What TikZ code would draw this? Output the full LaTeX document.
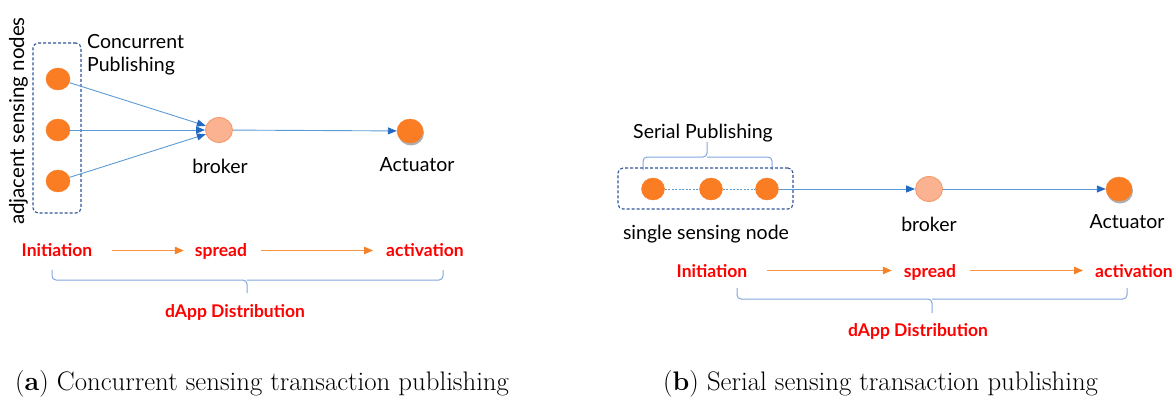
\documentclass[tikz,border=0pt]{standalone}
\usepackage{fontspec}
\usetikzlibrary{shapes.geometric,arrows.meta}
\newfontfamily\osans{Lato}
\definecolor{nodeor}{RGB}{250,125,35}
\definecolor{brkfill}{RGB}{250,178,145}
\definecolor{brkdraw}{RGB}{245,150,100}
\definecolor{lineblue}{RGB}{91,155,213}
\definecolor{tipblue}{RGB}{35,105,195}
\definecolor{boxblue}{RGB}{47,85,151}
\definecolor{bracecol}{RGB}{130,165,220}
\definecolor{arrowor}{RGB}{248,150,70}
\definecolor{tipor}{RGB}{245,130,40}
\definecolor{redtxt}{RGB}{255,0,0}
\definecolor{shadowcol}{RGB}{175,175,175}
\tikzset{
  sensor/.style={ellipse,fill=nodeor,draw=nodeor,line width=0.4pt,inner sep=0pt,minimum width=24pt,minimum height=22pt},
  brokernode/.style={ellipse,fill=brkfill,draw=brkdraw,line width=0.8pt,inner sep=0pt,minimum width=27pt,minimum height=25pt},
  actnode/.style={ellipse,fill=nodeor,draw=nodeor,line width=0.4pt,inner sep=0pt,minimum width=26pt,minimum height=24pt},
  shadownode/.style={ellipse,fill=shadowcol,draw=none,inner sep=0pt,minimum width=26pt,minimum height=25pt},
  groupbox/.style={draw=boxblue,line width=1.1pt,dash pattern=on 3pt off 2pt,rounded corners=5pt,inner sep=0pt},
  barrow/.style={draw=lineblue,line width=0.9pt,-{Triangle[length=9pt,width=7pt,color=tipblue]}},
  dotlink/.style={draw=lineblue,line width=0.7pt,dash pattern=on 2pt off 1.5pt},
  oarrow/.style={draw=arrowor,line width=1.2pt,-{Triangle[length=9pt,width=7.5pt,color=tipor]}},
  bracepath/.style={draw=bracecol,line width=1pt,rounded corners=4pt},
  lbl/.style={font=\osans\fontsize{19.5}{23}\selectfont,inner sep=0pt,anchor=base},
  redlbl/.style={font=\osans\bfseries\fontsize{17.5}{20}\selectfont,text=redtxt,inner sep=0pt,anchor=base},
  captxt/.style={font=\fontsize{26.8}{32}\selectfont,inner sep=0pt,anchor=base west}
}
\begin{document}
\begin{tikzpicture}[x=1pt,y=-1pt]
\useasboundingbox (0,0) rectangle (1175,397);
% ---------------- panel (a) ----------------
\node[groupbox,minimum width=48pt,minimum height=170pt] (gbox1) at (57,128) {};
\node[sensor] (a1) at (58,79) {};
\node[sensor] (a2) at (58,130) {};
\node[sensor] (a3) at (58,181) {};
\node[brokernode] (b1) at (219,130) {};
\node[shadownode] (c1s) at (411,133) {};
\node[actnode] (c1) at (410,131) {};
\draw[barrow] (a1) -- (b1);
\draw[barrow] (a2) -- (b1);
\draw[barrow] (a3) -- (b1);
\draw[barrow] (b1) -- (c1);
\node[lbl,rotate=90,font=\osans\fontsize{20.5}{24}\selectfont] (adj) at (24,121) {adjacent sensing nodes};
\node[lbl,anchor=base west] (cp1) at (87,48) {Concurrent};
\node[lbl,anchor=base west] (cp2) at (87,71) {Publishing};
\node[lbl] (bl1) at (220,173) {broker};
\node[lbl] (al1) at (417,171) {Actuator};
\node[redlbl] (i1) at (57,256) {Initiation};
\node[redlbl] (sp1) at (221,256) {spread};
\node[redlbl] (ac1) at (425,256) {activation};
\draw[oarrow] ([xshift=20pt,yshift=5.5pt]i1.base east) -- ([xshift=-11pt,yshift=5.5pt]sp1.base west);
\draw[oarrow] ([xshift=14pt,yshift=5.5pt]sp1.base east) -- ([xshift=-13pt,yshift=5.5pt]ac1.base west);
\draw[bracepath] (52,270) |- (247,280) -- (247,293);
\draw[bracepath] (443,270) |- (247,280);
\node[redlbl] (d1) at (235,317) {dApp Distribution};
\node[captxt] (capa) at (15,390) {(\textbf{a}) Concurrent sensing transaction publishing};
% ---------------- panel (b) ----------------
\node[lbl] (serp) at (703,138) {Serial Publishing};
\draw[bracepath] (643,170) |- (707,157) -- (707,142);
\draw[bracepath] (772,170) |- (707,157);
\node[groupbox,minimum width=175pt,minimum height=41pt] (gbox2) at (705.5,188.5) {};
\node[sensor,minimum width=23pt] (s1) at (653,189) {};
\node[sensor,minimum width=23pt] (s2) at (711,189) {};
\node[sensor,minimum width=23pt] (s3) at (767,189) {};
\draw[dotlink] (s1) -- (s2);
\draw[dotlink] (s2) -- (s3);
\node[brokernode] (b2) at (929,189) {};
\node[shadownode] (c2s) at (1120,191) {};
\node[actnode] (c2) at (1119,189) {};
\draw[barrow] (s3) -- (b2);
\draw[barrow] (b2) -- (c2);
\node[lbl] (ssn) at (706,239) {single sensing node};
\node[lbl] (bl2) at (929,231) {broker};
\node[lbl] (al2) at (1127,228) {Actuator};
\node[redlbl] (i2) at (712,277) {Initiation};
\node[redlbl] (sp2) at (930,277) {spread};
\node[redlbl,anchor=base west] (ac2) at (1095,277) {activation};
\draw[oarrow] ([xshift=20pt,yshift=6.5pt]i2.base east) -- ([xshift=-12pt,yshift=6.5pt]sp2.base west);
\draw[oarrow] ([xshift=14pt,yshift=6.5pt]sp2.base east) -- ([xshift=-12pt,yshift=6.5pt]ac2.base west);
\draw[bracepath] (737,288) |- (932,299) -- (932,313);
\draw[bracepath] (1127,288) |- (932,299);
\node[redlbl] (d2) at (918,336) {dApp Distribution};
\node[captxt] (capb) at (663,390) {(\textbf{b}) Serial sensing transaction publishing};
\end{tikzpicture}
\end{document}
